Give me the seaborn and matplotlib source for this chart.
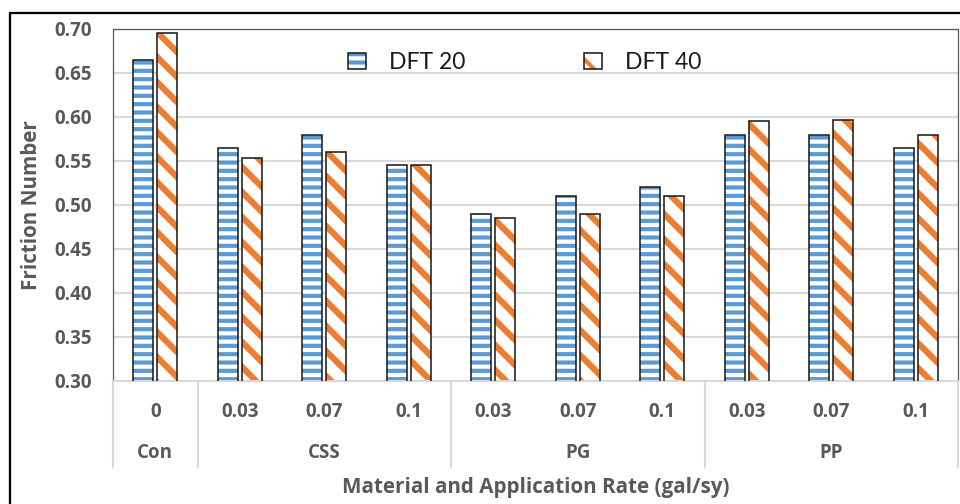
import numpy as np
import pandas as pd
import seaborn as sns
import matplotlib
import matplotlib.pyplot as plt
from matplotlib.patches import Patch, Rectangle
from matplotlib.legend_handler import HandlerTuple
from matplotlib.ticker import FormatStrFormatter

# ---------------- data ----------------
materials = ["Con", "CSS", "CSS", "CSS", "PG", "PG", "PG", "PP", "PP", "PP"]
rates = ["0", "0.03", "0.07", "0.1", "0.03", "0.07", "0.1", "0.03", "0.07", "0.1"]
dft20 = [0.665, 0.565, 0.580, 0.545, 0.490, 0.510, 0.520, 0.580, 0.580, 0.565]
dft40 = [0.695, 0.553, 0.560, 0.545, 0.485, 0.490, 0.510, 0.595, 0.597, 0.580]
series = ["DFT 20", "DFT 40"]
y_ticks = [0.30, 0.35, 0.40, 0.45, 0.50, 0.55, 0.60, 0.65, 0.70]
x_title = "Material and Application Rate (gal/sy)"
y_title = "Friction Number"

# ---------------- style ----------------
DPI = 150
sns.set_style("white")
plt.rcParams["font.family"] = ["Open Sans", "DejaVu Sans"]
plt.rcParams["hatch.linewidth"] = 2.0
TXT = "#595959"
GRID = "#D9D9D9"
BLUE = "#5B9BD5"
ORANGE = "#ED7D31"
hatches = ["---", "\\\\"]
hatch_cols = [BLUE, ORANGE]
hatch_lws = [2.0, 3.0]
BOLD = dict(family=["Open Sans", "DejaVu Sans"], weight="bold")
FS = 9.0


def style_hatch(p, h, c, hlw):
    p.set_hatch(h)
    p.set_edgecolor(c)
    p.set_linewidth(0)
    if hasattr(p, "set_hatch_linewidth"):
        p.set_hatch_linewidth(hlw)
    else:
        p._hatch_linewidth = hlw


keys = [f"{m}|{r}|{i}" for i, (m, r) in enumerate(zip(materials, rates))]
df = pd.DataFrame({
    "key": keys * 2,
    "series": [series[0]] * len(keys) + [series[1]] * len(keys),
    "value": dft20 + dft40,
})

fig = plt.figure(figsize=(960 / DPI, 504 / DPI), dpi=DPI)
W, H = 960, 504
ax = fig.add_axes([113 / W, 1 - 381 / H, 845 / W, 352 / H])

BW, GAP = 0.562, 0.16
sns.barplot(data=df, x="key", y="value", hue="series", order=keys,
            hue_order=series, palette=["white", "white"], width=BW, gap=GAP,
            saturation=1, legend=False, ax=ax, zorder=2)
for cont, h, c, hl in zip(ax.containers[:2], hatches, hatch_cols, hatch_lws):
    for bar in cont:
        style_hatch(bar, h, c, hl)
# outlines
sns.barplot(data=df, x="key", y="value", hue="series", order=keys,
            hue_order=series, palette=["black", "black"], width=BW, gap=GAP,
            fill=False, saturation=1, legend=False, ax=ax, zorder=3)
for cont in ax.containers[2:]:
    for bar in cont:
        bar.set_edgecolor("#1a1a1a")
        bar.set_facecolor("none")
        bar.set_linewidth(0.75)

ax.set_ylim(y_ticks[0], y_ticks[-1])
ax.set_xlim(-0.5, len(keys) - 0.5)
ax.set_yticks(y_ticks)
ax.yaxis.set_major_formatter(FormatStrFormatter("%.2f"))
ax.set_axisbelow(True)
ax.yaxis.grid(True, color=GRID, lw=1.0)
ax.xaxis.grid(False)

ax.set_xticks(range(len(keys)))
ax.set_xticklabels(rates)
ax.tick_params(axis="x", length=0, pad=15, labelcolor=TXT)
ax.tick_params(axis="y", length=0, pad=10, labelcolor=TXT)
for lab in ax.get_xticklabels() + ax.get_yticklabels():
    lab.set_fontproperties(matplotlib.font_manager.FontProperties(size=FS, **BOLD))
for lab in ax.get_xticklabels():
    lab.set_va("center")

for s in ["top", "right", "left"]:
    ax.spines[s].set_color("#595959")
    ax.spines[s].set_linewidth(0.6)
ax.spines["bottom"].set_color(GRID)
ax.spines["bottom"].set_linewidth(1.0)

ax.set_xlabel(x_title, fontsize=9.9, color=TXT, va="center", **BOLD)
ax.xaxis.set_label_coords(0.5, -107 / 352)
ax.set_ylabel(y_title, fontsize=9.9, color=TXT, va="center", **BOLD)
ax.yaxis.set_label_coords((32 - 113) / 845, 0.5)

# group labels and separators
xt = ax.get_xaxis_transform()
uniq = list(dict.fromkeys(materials))
bounds = [-0.5]
for m in uniq:
    idx = [i for i, mm in enumerate(materials) if mm == m]
    ax.text(np.mean(idx), -72 / 352, m, transform=xt, ha="center", va="center",
            fontsize=FS, color=TXT, **BOLD)
    bounds.append(max(idx) + 0.5)
for b in bounds:
    ax.plot([b, b], [0, -86 / 352], transform=xt, color=GRID, lw=1.0,
            clip_on=False, zorder=1)

# legend
handles = []
for h, c, hl in zip(hatches, hatch_cols, hatch_lws):
    hp = Patch(facecolor="white")
    style_hatch(hp, h, c, hl)
    handles.append((hp, Patch(fill=False, edgecolor="#1a1a1a", lw=0.75)))
leg = ax.legend(handles, series, handler_map={tuple: HandlerTuple(ndivide=1)},
                ncol=2, loc="upper left",
                bbox_to_anchor=((348 - 113) / 845, (381 - 52) / 352),
                frameon=False, borderpad=0, borderaxespad=0,
                prop={"family": ["Lato", "DejaVu Sans"], "size": 11.0},
                handlelength=0.78, handleheight=0.7, handletextpad=1.0,
                columnspacing=5.2)
for t in leg.get_texts():
    t.set_color("#1a1a1a")

# outer frame
fig.patches.append(Rectangle((10 / W, -0.5), 2.0, 1.5 - 13 / H,
                             transform=fig.transFigure, fill=False,
                             edgecolor="black", lw=1.1))

fig.savefig("out.png", dpi=DPI)
